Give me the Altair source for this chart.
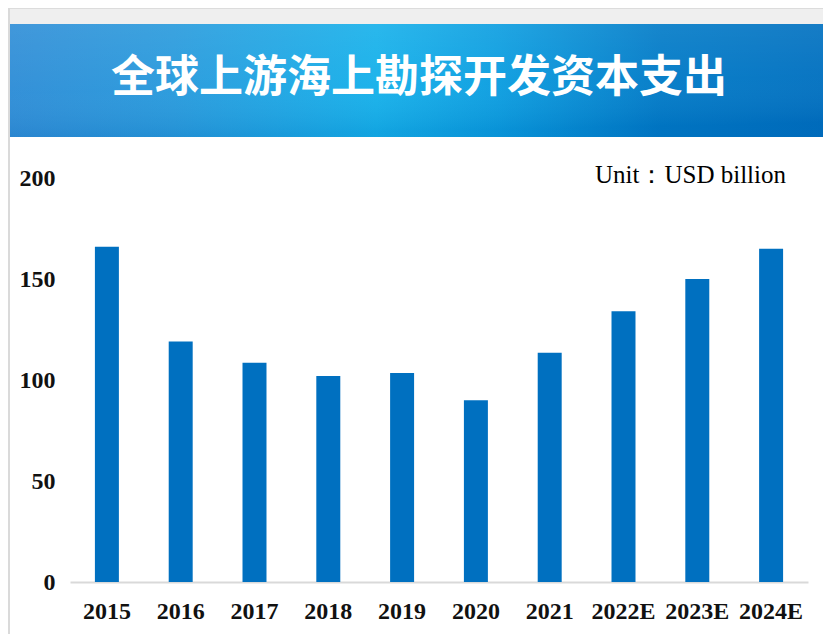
import altair as alt
import pandas as pd

years = ["2015", "2016", "2017", "2018", "2019", "2020", "2021", "2022E", "2023E", "2024E"]
capex = [166, 119, 108.5, 102, 103.5, 90, 113.5, 134, 150, 165]
y_ticks = [0, 50, 100, 150, 200]
title_text = "全球上游海上勘探开发资本支出"
unit_text = "Unit：USD billion"

df = pd.DataFrame({"year": years, "capex": capex})
one = alt.Data(values=[{}])

W, H = 738, 404
PL, PT, PR, PB = 62, 170, 15, 52
SERIF = "Liberation Serif"

bars = alt.Chart(df).mark_bar(color="#0070C0").encode(
    x=alt.X("year:N", sort=years,
            scale=alt.Scale(paddingInner=0.675, paddingOuter=0.3375),
            axis=alt.Axis(title=None, labelAngle=0, ticks=False, tickSize=0,
                          domainColor="#d9d9d9", domainWidth=2,
                          labelFont=SERIF, labelFontSize=24, labelFontWeight="bold",
                          labelColor="#111111", labelPadding=17)),
    y=alt.Y("capex:Q", scale=alt.Scale(domain=[0, 200]),
            axis=alt.Axis(title=None, values=y_ticks, grid=False, domain=False,
                          ticks=False, tickSize=0, labelFont=SERIF, labelFontSize=24,
                          labelFontWeight="bold", labelColor="#111111", labelPadding=15)),
)

# top gray strip
strip = alt.Chart(one).mark_rect(color="#efefef").encode(
    x=alt.value(-PL), x2=alt.value(W + PR), y=alt.value(-PT), y2=alt.value(-PT + 16)
)
strip_line = alt.Chart(one).mark_rule(color="#dcdcdc", strokeWidth=1).encode(
    x=alt.value(-PL), x2=alt.value(W + PR), y=alt.value(-PT + 0.5)
)
left_line = alt.Chart(one).mark_rule(color="#dadada", strokeWidth=2).encode(
    x=alt.value(-PL + 1), y=alt.value(-PT), y2=alt.value(H + PB)
)

banner = alt.Chart(one).mark_rect(
    color=alt.LinearGradient(
        gradient="linear", x1=0, x2=1, y1=0, y2=0,
        stops=[
            alt.GradientStop(color="#2c8cd6", offset=0),
            alt.GradientStop(color="#2699dc", offset=0.2),
            alt.GradientStop(color="#14b0ea", offset=0.45),
            alt.GradientStop(color="#0a9de0", offset=0.6),
            alt.GradientStop(color="#007ac7", offset=0.8),
            alt.GradientStop(color="#0070c0", offset=1),
        ],
    )
).encode(x=alt.value(-PL + 2), x2=alt.value(W + PR), y=alt.value(-PT + 16), y2=alt.value(-41))

shade = alt.Chart(one).mark_rect(
    color=alt.LinearGradient(
        gradient="linear", x1=0, x2=0.15, y1=0, y2=1,
        stops=[
            alt.GradientStop(color="rgba(255,255,255,0.10)", offset=0),
            alt.GradientStop(color="rgba(255,255,255,0.04)", offset=0.6),
            alt.GradientStop(color="rgba(0,60,140,0.10)", offset=1),
        ],
    )
).encode(x=alt.value(-PL + 2), x2=alt.value(W + PR), y=alt.value(-PT + 16), y2=alt.value(-41))

title = alt.Chart(one).mark_text(
    text=title_text, font="Noto Sans CJK SC", fontSize=44, fontWeight="bold",
    color="#ffffff", align="center", baseline="middle"
).encode(x=alt.value(349), y=alt.value(-99))

unit = alt.Chart(one).mark_text(
    text=unit_text, font=SERIF, fontSize=25, color="#000000",
    align="right", baseline="middle"
).encode(x=alt.value(716), y=alt.value(-3))

chart = alt.layer(strip, strip_line, banner, shade, left_line, title, unit, bars).properties(
    width=W, height=H,
    padding={"left": PL, "top": PT, "right": PR, "bottom": PB},
    autosize=alt.AutoSizeParams(type="none"),
    background="#ffffff",
).configure_view(stroke=None)

chart.save("out.html", embed_options={"renderer": "svg", "actions": False})
